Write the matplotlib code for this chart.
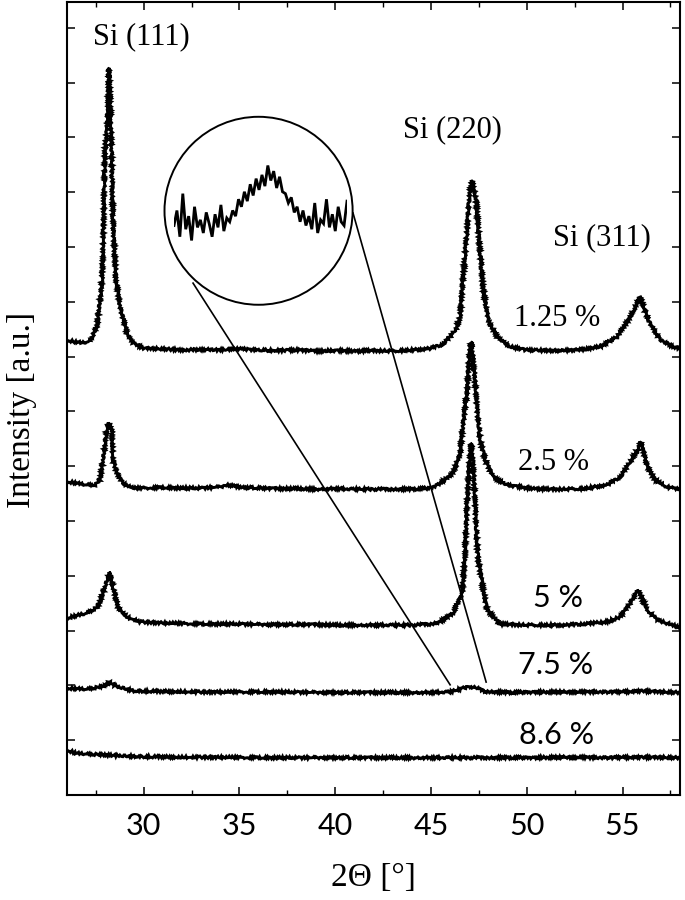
import numpy as np
import matplotlib
matplotlib.use("Agg")
import matplotlib.pyplot as plt
from matplotlib.patches import Ellipse

# ---------------------------------------------------------------
# Data (2theta in degrees, stacked intensity in a.u.)

x_125 = [26.0, 26.4, 26.8, 27.2, 27.57, 27.83, 27.88, 27.98, 28.1, 28.19, 28.3, 28.4, 28.56,
         28.77, 29.13, 29.45, 30.0, 31, 32, 33, 34, 35, 36, 37, 38, 39, 40, 41, 42, 43, 44,
         45, 45.6, 46.0, 46.3, 46.52, 46.68, 46.89, 46.99, 47.15, 47.36, 47.51, 47.72, 47.98,
         48.45, 49.13, 50, 51, 52, 53, 53.83, 54.72, 55.4, 55.92, 56.34, 56.97, 57.64, 58.0]
y_125 = [8.30, 8.27, 8.25, 8.28, 8.55, 9.40, 10.0, 11.77, 12.2, 13.27, 12.2, 10.49, 9.40,
         8.91, 8.43, 8.25, 8.15, 8.14, 8.12, 8.13, 8.12, 8.14, 8.12, 8.11, 8.12, 8.10, 8.11,
         8.10, 8.11, 8.10, 8.12, 8.15, 8.22, 8.36, 8.50, 8.72, 9.45, 10.31, 10.91, 11.22,
         10.86, 10.13, 9.27, 8.67, 8.36, 8.18, 8.12, 8.11, 8.11, 8.13, 8.18, 8.36, 8.72, 9.09,
         8.67, 8.30, 8.18, 8.15]

x_25 = [26.0, 27.0, 27.5, 27.72, 27.88, 28.09, 28.19, 28.35, 28.4, 28.61, 28.92, 29.45, 30,
        31, 32, 33, 34, 34.4, 35, 36, 37, 38, 39, 40, 41, 42, 43, 44, 45, 45.48, 46.16, 46.52,
        46.68, 46.89, 46.99, 47.1, 47.2, 47.41, 47.57, 47.83, 48.25, 48.98, 50, 51, 52, 53,
        54.2, 54.88, 55.4, 55.87, 55.95, 56.29, 56.7, 57.33, 58.0]
y_25 = [5.72, 5.66, 5.66, 5.75, 6.11, 6.72, 6.79, 6.66, 6.11, 5.88, 5.69, 5.60, 5.60,
        5.61, 5.60, 5.60, 5.62, 5.66, 5.62, 5.60, 5.59, 5.59, 5.58, 5.59, 5.58, 5.58, 5.58,
        5.58, 5.60, 5.69, 5.88, 6.24, 6.79, 7.39, 7.99, 8.27, 7.99, 7.03, 6.48, 6.11, 5.80,
        5.66, 5.60, 5.58, 5.58, 5.59, 5.66, 5.80, 6.08, 6.35, 6.45, 5.99, 5.75, 5.62, 5.57]

x_5 = [26.0, 27.04, 27.62, 27.88, 28.09, 28.25, 28.4, 28.66, 29.13, 29.81, 31, 32, 33, 34,
       35, 36, 37, 38, 39, 40, 41, 42, 43, 44, 45, 45.48, 46.16, 46.63, 46.78, 46.89, 46.99,
       47.1, 47.2, 47.36, 47.46, 47.67, 47.93, 48.61, 50, 51, 52, 53, 54.2, 54.88, 55.4,
       55.82, 56.29, 56.81, 57.64, 58.0]
y_5 = [3.23, 3.32, 3.43, 3.69, 3.92, 4.07, 3.80, 3.43, 3.25, 3.16, 3.14, 3.13, 3.12, 3.12,
       3.12, 3.11, 3.11, 3.11, 3.11, 3.10, 3.10, 3.10, 3.10, 3.10, 3.12, 3.16, 3.32, 3.69,
       4.42, 5.38, 5.99, 6.42, 6.06, 4.89, 4.29, 3.87, 3.38, 3.12, 3.10, 3.10, 3.10, 3.12,
       3.16, 3.25, 3.50, 3.74, 3.38, 3.19, 3.10, 3.05]

x_75 = [26.0, 27.0, 27.9, 28.2, 28.6, 29.5, 31, 33, 35, 37, 39, 41, 43, 45, 46.0, 46.7,
        47.0, 47.4, 47.8, 49, 51, 53, 55, 56, 57, 58]
y_75 = [1.95, 1.93, 1.98, 2.06, 1.98, 1.90, 1.89, 1.88, 1.88, 1.88, 1.87, 1.87, 1.87, 1.87,
        1.88, 1.95, 1.98, 1.95, 1.89, 1.87, 1.88, 1.88, 1.88, 1.90, 1.88, 1.87]

x_86 = [26.0, 26.5, 27.5, 28.5, 30, 32, 34, 36, 38, 40, 42, 44, 46, 48, 50, 52, 54, 56, 58]
y_86 = [0.82, 0.76, 0.74, 0.72, 0.70, 0.69, 0.69, 0.68, 0.68, 0.68, 0.68, 0.68, 0.68, 0.68,
        0.68, 0.69, 0.68, 0.69, 0.68]

# magnified 7.5 % pattern around 47 deg (inset, counts)
inset_counts = [28, 36, 22, 45, 26, 33, 20, 38, 27, 31, 24, 35, 29, 22, 34, 27, 39, 25, 32, 30,
                36, 33, 42, 38, 46, 41, 50, 44, 53, 47,
                55, 49, 60, 52, 57, 48, 54, 46,
                45, 40, 43, 35, 38, 30, 36, 28,
                33, 26, 40, 24, 31, 29, 42, 27, 34, 25, 38, 30, 28, 41]

sample_labels = ["1.25 %", "2.5 %", "5 %", "7.5 %", "8.6 %"]
label_x = [51.6, 51.4, 51.65, 51.5, 51.55]
label_y = [8.70, 6.06, 3.59, 2.37, 1.09]
label_font = ["Liberation Serif", "Liberation Serif", "Lato", "Lato", "Lato"]

peak_names = ["Si (111)", "Si (220)", "Si (311)"]
peak_x = [29.86, 46.1, 53.94]
peak_y = [13.83, 12.14, 10.16]

xticks = [30, 35, 40, 45, 50, 55]

# ---------------------------------------------------------------
fig = plt.figure(figsize=(6.85, 9.0), dpi=100)
ax = fig.add_axes([0.0978, 0.1167, 0.8949, 0.8811])

for xs, ys in [(x_125, y_125), (x_25, y_25), (x_5, y_5), (x_75, y_75), (x_86, y_86)]:
    line, = ax.plot(xs, ys, color="black", lw=2.1, solid_joinstyle="miter")
    line.set_sketch_params(scale=1.2, length=2.5, randomness=2.0)

ax.set_xlim(26, 58)
ax.set_ylim(0, 14.47)
ax.set_xticks(xticks)
ax.set_xticklabels([str(t) for t in xticks], fontfamily="Lato", fontsize=22)
ax.set_xticks(np.arange(27.5, 58, 5), minor=True)
ax.set_yticks(np.arange(0, 15))
ax.set_yticklabels([])
ax.tick_params(direction="in", top=True, right=True, length=6, width=1.1, pad=12)
ax.tick_params(which="minor", direction="in", top=True, right=True, length=3.5, width=1.0)
for sp in ax.spines.values():
    sp.set_linewidth(1.5)

for txt, lx, ly, fam in zip(sample_labels, label_x, label_y, label_font):
    ax.text(lx, ly, txt, ha="center", va="center", fontsize=22, fontfamily=fam)

for txt, px, py in zip(peak_names, peak_x, peak_y):
    ax.text(px, py, txt, ha="center", va="center", fontsize=22, fontfamily="Liberation Serif")

# magnifier circle and connector lines
ax.add_patch(Ellipse((36.0, 10.66), 9.82, 3.43, fill=False, lw=1.4, color="black"))
ax.plot([32.58, 46.0], [9.34, 2.01], color="black", lw=1.2)
ax.plot([40.93, 47.88], [10.62, 2.06], color="black", lw=1.2)

ins = fig.add_axes([174 / 685, (900 - 278) / 900, 173 / 685, 150 / 900])
ins.plot(np.linspace(46.0, 48.0, len(inset_counts)), inset_counts, color="black", lw=2.0,
         solid_joinstyle="miter")
ins.set_xlim(46.0, 48.0)
ins.set_ylim(0, 80)
ins.axis("off")

fig.text(0.5455, (900 - 878) / 900, "2\u0398 [\u00b0]", ha="center", va="center",
         fontsize=24, fontfamily="Liberation Serif")
fig.text(0.032, (900 - 410) / 900, "Intensity [a.u.]", ha="center", va="center",
         rotation=90, fontsize=24, fontfamily="Liberation Serif")

fig.savefig("out.png", dpi=100)
